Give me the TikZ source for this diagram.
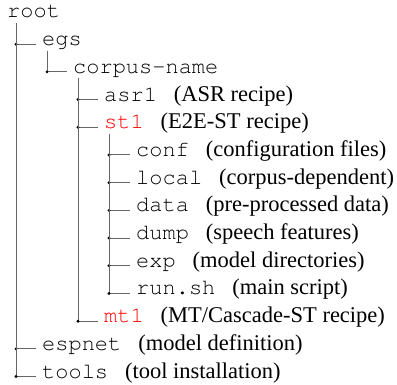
\documentclass[tikz,border=0pt]{standalone}
\usepackage[T1,TU]{fontenc}
\usepackage{fontspec}
\setmainfont{Liberation Serif}
\usetikzlibrary{positioning}
\tikzstyle{DirNode}=[anchor=base west, inner sep=0pt, font=\fontsize{22.5}{27}\selectfont]
\tikzstyle{Branch}=[draw=black!60, line width=1pt]
\tikzstyle{Knot}=[circle, fill=black, inner sep=0pt, minimum size=3.2pt]
\newcommand{\dname}[1]{{\fontencoding{T1}\fontfamily{pcr}\fontsize{22}{27}\selectfont #1}}
\newcommand{\rname}[1]{\textcolor{red}{\dname{#1}}}
\newcommand{\dnote}[1]{\hspace{0.75em}(#1)}

\begin{document}
\begin{tikzpicture}[x=1pt, y=-1pt]
    \useasboundingbox (0,0) rectangle (397,385);

    \node (root) [DirNode] at (7,18) {\dname{root}};
    \node (egs) [DirNode] at (42,45.7) {\dname{egs}};
    \node (corpus) [DirNode] at (73,73.4) {\dname{corpus-name}};
    \node (asr) [DirNode] at (104,101.1) {\dname{asr1}\dnote{ASR recipe}};
    \node (st) [DirNode] at (104,128.8) {\rname{st1}\dnote{E2E-ST recipe}};
    \node (conf) [DirNode] at (136,156.5) {\dname{conf}\dnote{configuration files}};
    \node (local) [DirNode] at (136,184.2) {\dname{local}\dnote{corpus-dependent}};
    \node (data) [DirNode] at (136,211.9) {\dname{data}\dnote{pre-processed data}};
    \node (dump) [DirNode] at (136,239.6) {\dname{dump}\dnote{speech features}};
    \node (exp) [DirNode] at (136,267.3) {\dname{exp}\dnote{model directories}};
    \node (run) [DirNode] at (136,295) {\dname{run.sh}\dnote{main script}};
    \node (mt) [DirNode] at (104,322.7) {\rname{mt1}\dnote{MT/Cascade-ST recipe}};
    \node (espnet) [DirNode] at (42,350.4) {\dname{espnet}\dnote{model definition}};
    \node (tools) [DirNode] at (42,378.1) {\dname{tools}\dnote{tool installation}};

    \draw [Branch] ([shift={(9pt,-5pt)}]root.base west) |- node[Knot]{} ([shift={(-6pt,1.5pt)}]egs.base west);
    \draw [Branch] ([shift={(9pt,-5pt)}]root.base west) |- node[Knot]{} ([shift={(-6pt,1.5pt)}]espnet.base west);
    \draw [Branch] ([shift={(9pt,-5pt)}]root.base west) |- node[Knot]{} ([shift={(-6pt,1.5pt)}]tools.base west);
    \draw [Branch] ([shift={(5pt,-5pt)}]egs.base west) |- node[Knot]{} ([shift={(-6pt,1.5pt)}]corpus.base west);
    \draw [Branch] ([shift={(5pt,-5pt)}]corpus.base west) |- node[Knot]{} ([shift={(-6pt,1.5pt)}]asr.base west);
    \draw [Branch] ([shift={(5pt,-5pt)}]corpus.base west) |- node[Knot]{} ([shift={(-6pt,1.5pt)}]st.base west);
    \draw [Branch] ([shift={(5pt,-5pt)}]corpus.base west) |- node[Knot]{} ([shift={(-6pt,1.5pt)}]mt.base west);
    \draw [Branch] ([shift={(5pt,-5pt)}]st.base west) |- node[Knot]{} ([shift={(-6pt,1.5pt)}]conf.base west);
    \draw [Branch] ([shift={(5pt,-5pt)}]st.base west) |- node[Knot]{} ([shift={(-6pt,1.5pt)}]local.base west);
    \draw [Branch] ([shift={(5pt,-5pt)}]st.base west) |- node[Knot]{} ([shift={(-6pt,1.5pt)}]data.base west);
    \draw [Branch] ([shift={(5pt,-5pt)}]st.base west) |- node[Knot]{} ([shift={(-6pt,1.5pt)}]dump.base west);
    \draw [Branch] ([shift={(5pt,-5pt)}]st.base west) |- node[Knot]{} ([shift={(-6pt,1.5pt)}]exp.base west);
    \draw [Branch] ([shift={(5pt,-5pt)}]st.base west) |- node[Knot]{} ([shift={(-6pt,1.5pt)}]run.base west);
\end{tikzpicture}
\end{document}
